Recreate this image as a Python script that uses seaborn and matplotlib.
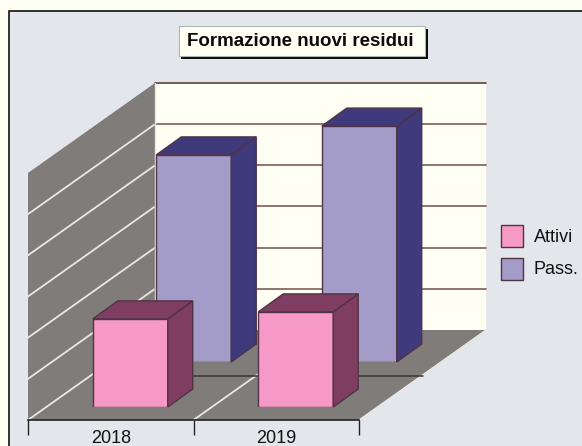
import matplotlib
matplotlib.use("Agg")
import matplotlib.pyplot as plt
from matplotlib.patches import Polygon, Rectangle
from matplotlib.lines import Line2D
import seaborn as sns

years = ["2018", "2019"]
attivi = [2.14, 2.31]
passivi = [5.03, 5.73]
series_names = ["Attivi", "Pass."]
y_levels = [0, 1, 2, 3, 4, 5, 6]
title_text = "Formazione nuovi residui"

sns.set_theme(style="white")
plt.rcParams["font.family"] = ["Liberation Sans", "DejaVu Sans"]

W, H = 582, 446
OUTER, PANEL, CREAM = "#fffff4", "#e3e7ec", "#fffff4"
WALL, WALL_LINE = "#807c79", "#e9e8e2"
EDGE = "#4f3346"
PINK, PINK_DARK = "#f799c6", "#7e3d61"
PURPLE, PURPLE_DARK = "#a39bc8", "#3e3a7c"

# oblique projection geometry, in pixels
X0, Y0, PLANE_W, UNIT = 28, 420, 331, 41.17
DEPTH_X, DEPTH_Y = 127, 90


def plane(dx, dy, z):
    """Transparent axes lying on a depth plane, shifted by dx, dy pixels."""
    box = [(X0 + dx) / W, (H - Y0 + dy) / H, PLANE_W / W, 6 * UNIT / H]
    ax = fig.add_axes(box, zorder=z)
    ax.patch.set_alpha(0)
    ax.set_xlim(-0.5, 1.5)
    ax.set_ylim(0, 6)
    for s in ax.spines.values():
        s.set_visible(False)
    ax.set(xlabel="", ylabel="")
    return ax


def extrude(ax, side):
    """Add the top and side faces of each bar drawn by seaborn."""
    ddx = 25 / (PLANE_W / 2)
    ddy = 18 / UNIT
    for p in list(ax.patches):
        x0, w, h = p.get_x(), p.get_width(), p.get_height()
        x1 = x0 + w
        for pts in (
            [(x1, 0), (x1 + ddx, ddy), (x1 + ddx, h + ddy), (x1, h)],
            [(x0, h), (x0 + ddx, h + ddy), (x1 + ddx, h + ddy), (x1, h)],
        ):
            ax.add_patch(Polygon(pts, closed=True, fc=side, ec=EDGE, lw=1, clip_on=False))
    ax.set_xlim(-0.5, 1.5)
    ax.set_ylim(0, 6)
    ax.set(xlabel="", ylabel="", xticks=[], yticks=[])


fig = plt.figure(figsize=(W / 100, H / 100), dpi=100, facecolor=OUTER)

# page chrome, in pixel coordinates
bg = fig.add_axes([0, 0, 1, 1], zorder=0)
bg.set_xlim(0, W)
bg.set_ylim(H, 0)
bg.axis("off")
bg.add_patch(Rectangle((8.5, 10.5), W, H, fc=PANEL, ec="#111111", lw=1.2))

# walls and floor, projected from the value levels
top = Y0 - 6 * UNIT
bg.add_patch(Polygon([(X0, Y0), (X0, top), (X0 + DEPTH_X, top - DEPTH_Y), (X0 + DEPTH_X, Y0 - DEPTH_Y)], fc=WALL, ec="none"))
bg.add_patch(Polygon([(X0, Y0), (X0 + PLANE_W, Y0), (X0 + PLANE_W + DEPTH_X, Y0 - DEPTH_Y), (X0 + DEPTH_X, Y0 - DEPTH_Y)], fc=WALL, ec="none"))
bg.add_patch(Rectangle((X0 + DEPTH_X, top - DEPTH_Y), PLANE_W, 6 * UNIT, fc=CREAM, ec="none"))
for lv in y_levels[:-1]:
    y = Y0 - lv * UNIT
    bg.add_line(Line2D([X0, X0 + DEPTH_X], [y, y - DEPTH_Y], color=WALL_LINE, lw=1.3))
    if lv > 0:
        bg.add_line(Line2D([X0 + DEPTH_X, X0 + DEPTH_X + PLANE_W], [y - DEPTH_Y] * 2, color="#7d5d58", lw=1.2))
bg.add_line(Line2D([X0 + DEPTH_X, X0 + DEPTH_X + PLANE_W], [top - DEPTH_Y] * 2, color="#5d3f3a", lw=1.2))
bg.add_line(Line2D([X0 + DEPTH_X, X0 + DEPTH_X], [top - DEPTH_Y, Y0 - DEPTH_Y], color=WALL_LINE, lw=1))
mid = X0 + PLANE_W / 2
bg.add_line(Line2D([mid, mid + DEPTH_X], [Y0, Y0 - DEPTH_Y], color=WALL_LINE, lw=1.3))
bg.add_line(Line2D([X0 + PLANE_W, X0 + PLANE_W + DEPTH_X], [Y0, Y0 - DEPTH_Y], color=WALL_LINE, lw=1))
bg.add_line(Line2D([mid, X0 + PLANE_W + 64], [376, 376], color="#3d3433", lw=1.1))

# title box
bg.add_patch(Rectangle((181, 29), 247, 30, fc="#0a0a0a", ec="none"))
bg.add_patch(Rectangle((178.5, 26), 246, 30, fc=OUTER, ec="#a8b8b8", lw=0.8))
bg.text(300.5, 41.5, title_text, ha="center", va="center", fontsize=13.5, fontweight="bold", color="#0a0a0a")

# purple bars (rear row)
ax_p = plane(83, 58, 2)
sns.barplot(x=years, y=passivi, color=PURPLE, saturation=1, width=0.453,
            edgecolor=EDGE, linewidth=1, ax=ax_p)
extrude(ax_p, PURPLE_DARK)

# pink bars (front row)
ax_a = plane(19.5, 13, 3)
sns.barplot(x=years, y=attivi, color=PINK, saturation=1, width=0.453,
            edgecolor=EDGE, linewidth=1, ax=ax_a)
extrude(ax_a, PINK_DARK)

# front axis with category labels
ax_f = plane(0, 0, 4)
ax_f.spines["bottom"].set_visible(True)
ax_f.spines["bottom"].set_color("#222222")
ax_f.spines["bottom"].set_linewidth(1.2)
ax_f.set_yticks([])
ax_f.set_xticks([0, 1], years, fontsize=13, color="#111111")
ax_f.set_xticks([-0.5, 0.5, 1.5], minor=True)
ax_f.tick_params(axis="x", which="major", length=0, pad=7)
ax_f.tick_params(axis="x", which="minor", bottom=True, length=10.5, width=1, color="#222222")

# legend
handles = [Rectangle((0, 0), 1, 1, fc=PINK, ec=EDGE, lw=1),
           Rectangle((0, 0), 1, 1, fc=PURPLE, ec=EDGE, lw=1)]
fig.legend(handles, series_names, loc="upper left",
           bbox_to_anchor=(501 / W, 1 - 225 / H), bbox_transform=fig.transFigure,
           frameon=False, fontsize=13, labelcolor="#111111", borderaxespad=0, borderpad=0,
           handlelength=1.22, handleheight=1.5, handletextpad=0.6, labelspacing=0.58)

fig.savefig("out.png", dpi=100, facecolor=OUTER)
